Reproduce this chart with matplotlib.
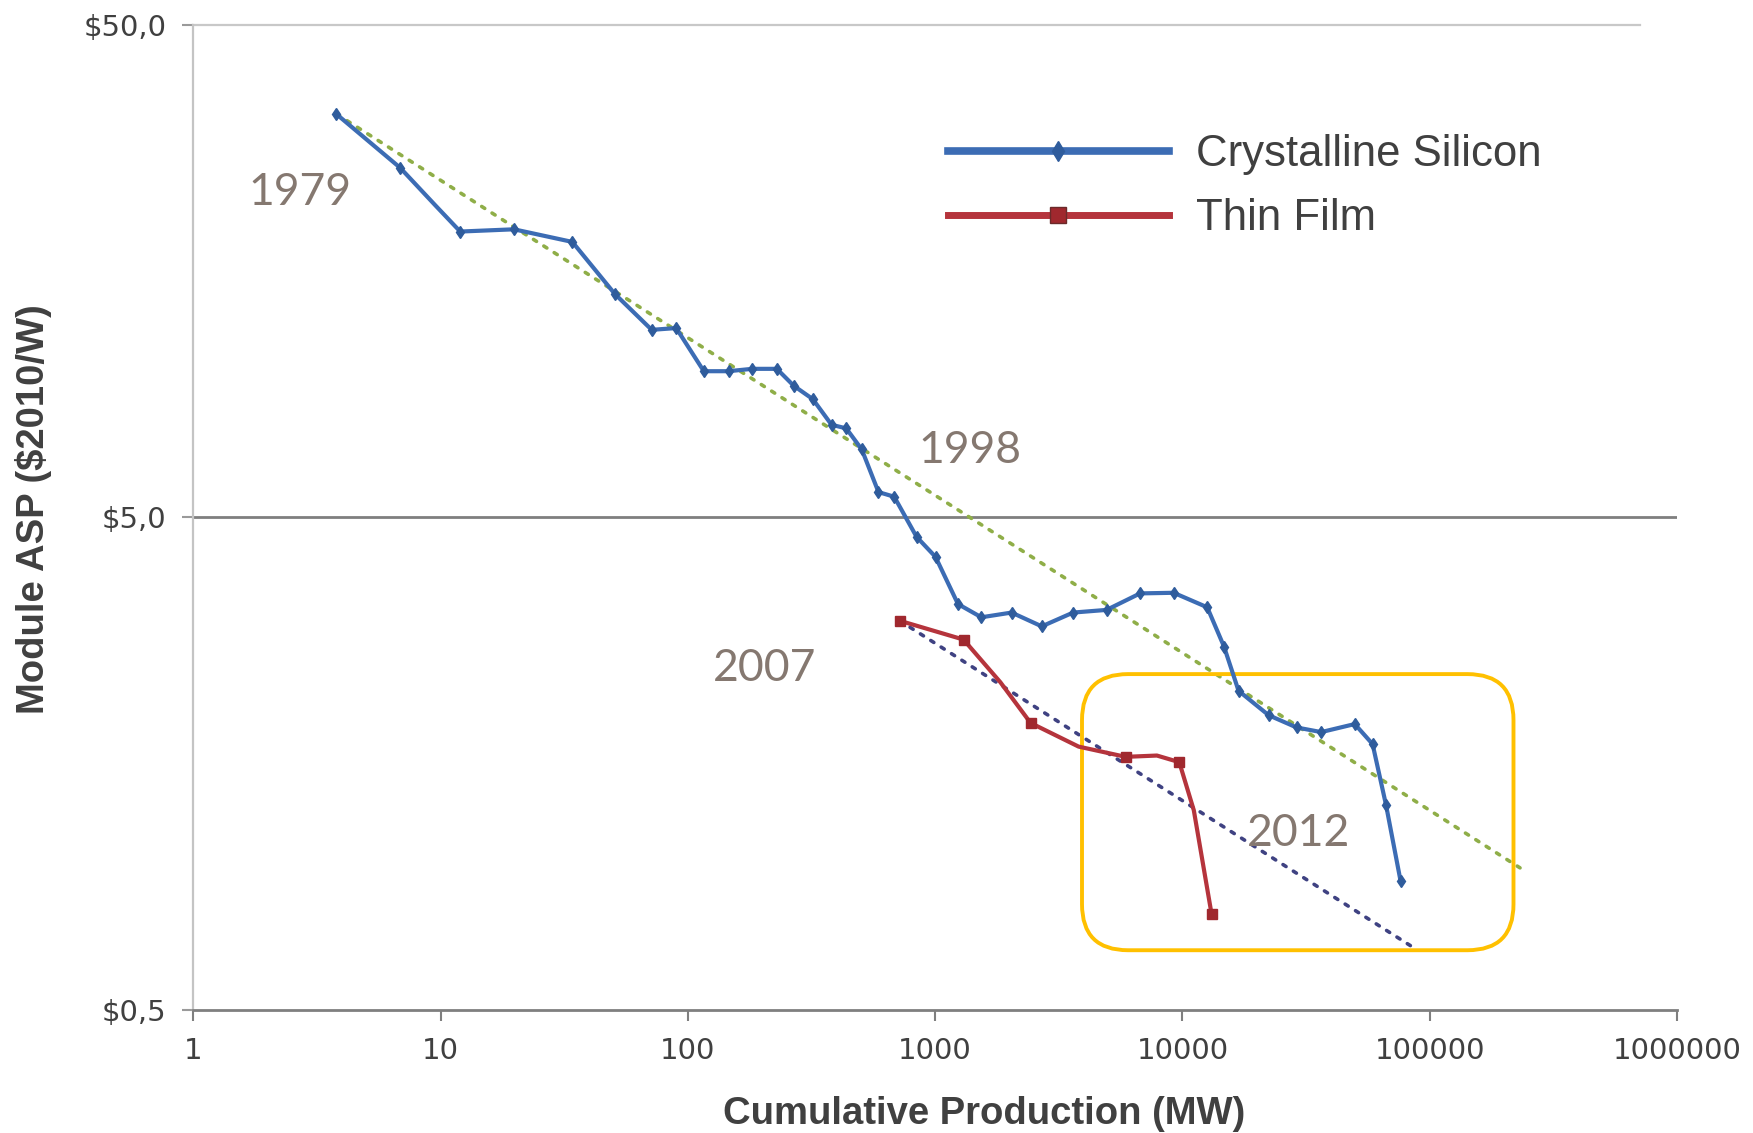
import matplotlib
matplotlib.use("Agg")
import matplotlib.pyplot as plt
from matplotlib.patches import FancyBboxPatch
from matplotlib.lines import Line2D
from matplotlib.transforms import IdentityTransform
from matplotlib.ticker import NullLocator

# ---- data ----
si_x = [3.79, 6.86, 9.5, 12.0, 19.8, 34.1, 50.6, 71.4, 89.7, 116, 146, 182, 229, 268, 320,
        381, 437, 505, 590, 683, 841, 1004, 1237, 1538, 2038, 2700, 3614, 4937, 6746,
        9220, 12600, 14730, 16870, 22330, 28970, 36430, 49780, 58780, 66640, 76280]
si_y = [32.9, 25.6, 21.5, 19.0, 19.2, 18.1, 14.2, 12.0, 12.1, 9.89, 9.89, 10.0, 10.0, 9.24, 8.68,
        7.70, 7.57, 6.86, 5.62, 5.50, 4.56, 4.15, 3.33, 3.13, 3.20, 3.00, 3.20, 3.24, 3.50,
        3.51, 3.28, 2.73, 2.22, 1.98, 1.87, 1.83, 1.90, 1.73, 1.30, 0.912]

tf_x = [719, 1303, 1836, 2432, 3803, 5893, 7887, 9714, 11120, 13130]
tf_y = [3.08, 2.82, 2.31, 1.91, 1.71, 1.63, 1.64, 1.59, 1.27, 0.78]

si_trend_x = [3.8, 232000]
si_trend_y = [32.9, 0.97]
tf_trend_x = [719, 86500]
tf_trend_y = [3.08, 0.667]

x_ticks = [1, 10, 100, 1000, 10000, 100000, 1000000]
x_tick_labels = ["1", "10", "100", "1000", "10000", "100000", "1000000"]
y_ticks = [0.5, 5, 50]
y_tick_labels = ["\\$0,5", "\\$5,0", "\\$50,0"]

year_labels = ["1979", "1998", "2007", "2012"]
year_x = [2.69, 1387, 204, 29580]
year_y = [22.8, 6.82, 2.46, 1.14]

box_x = [3926, 218300]
box_y = [0.66, 2.40]

series_names = ["Crystalline Silicon", "Thin Film"]

# ---- styles ----
BLUE = "#3c6cb4"
BLUE_M = "#2f5c9c"
RED = "#b5343c"
RED_M = "#a0282e"
GREEN = "#8fae48"
NAVY = "#3f4282"
TXT = "#404040"

fig = plt.figure(figsize=(17.53, 11.33), dpi=100)
ax = fig.add_axes([0.1103, 0.1089, 0.8463, 0.8694])
ax.set_xscale("log")
ax.set_yscale("log")
ax.set_xlim(1, 1e6)
ax.set_ylim(0.5, 50)

# frame
for s in ["top", "right"]:
    ax.spines[s].set_visible(False)
ax.spines["left"].set_color("#c4c4c4")
ax.spines["left"].set_linewidth(1.6)
ax.spines["bottom"].set_color("#7f7f7f")
ax.spines["bottom"].set_linewidth(2.0)

ax.axhline(5, color="#7f7f7f", lw=2.0, zorder=1)
ax.axhline(50, xmax=0.975, color="#c8c8c8", lw=1.6, zorder=1, clip_on=False)

ax.set_xticks(x_ticks)
ax.set_xticklabels(x_tick_labels)
ax.set_yticks(y_ticks)
ax.set_yticklabels(y_tick_labels)
ax.xaxis.set_minor_locator(NullLocator())
ax.yaxis.set_minor_locator(NullLocator())
ax.tick_params(axis="x", length=8, width=1.5, color="#7f7f7f", pad=12,
               labelsize=21, labelcolor=TXT)
ax.tick_params(axis="y", length=8, width=1.5, color="#9a9a9a", pad=11.5,
               labelsize=21, labelcolor=TXT)

# trend lines
ax.plot(si_trend_x, si_trend_y, color=GREEN, lw=2.6, ls=(0, (1, 2.4)),
        dash_capstyle="round", zorder=3)
ax.plot(tf_trend_x, tf_trend_y, color=NAVY, lw=2.6, ls=(0, (1, 2.4)),
        dash_capstyle="round", zorder=3)

# series
ax.plot(si_x, si_y, color=BLUE, lw=3.0, marker="d", ms=6, mfc=BLUE_M, mec=BLUE_M,
        zorder=5, solid_joinstyle="round", markevery=[i for i in range(len(si_x)) if i != 2])
ax.plot(tf_x, tf_y, color=RED, lw=3.0, marker="s", ms=7, markevery=[0, 1, 3, 5, 7, 9],
        mfc=RED_M, mec=RED_M, zorder=5, solid_joinstyle="round")

# year annotations
for s, xv, yv in zip(year_labels, year_x, year_y):
    ax.text(xv, yv, s, ha="center", va="center", fontsize=32, family="Lato",
            color="#857870", zorder=6)

# highlight box (pixel-rounded corners)
(x0, y0) = ax.transData.transform((box_x[0], box_y[0]))
(x1, y1) = ax.transData.transform((box_x[1], box_y[1]))
box = FancyBboxPatch((x0, y0), x1 - x0, y1 - y0,
                     boxstyle="round,pad=0,rounding_size=46",
                     transform=IdentityTransform(), fill=False,
                     ec="#FFC000", lw=2.8, zorder=4)
ax.add_artist(box)

# axis labels
ax.set_xlabel("Cumulative Production (MW)", fontsize=27.5, fontweight="bold",
              family="Liberation Sans", color=TXT)
ax.xaxis.label.set(va="center", ha="center")
ax.xaxis.set_label_coords(0.533, -0.1055)
ax.set_ylabel("Module ASP (\\$2010/W)", fontsize=27.5, fontweight="bold",
              family="Liberation Sans", color=TXT)
ax.yaxis.label.set(va="center", ha="center", rotation_mode="anchor")
ax.yaxis.set_label_coords(-0.108, 0.5085)

# legend
handles = [
    Line2D([], [], color=BLUE, lw=5.5, marker="d", ms=10, mfc=BLUE_M, mec=BLUE_M),
    Line2D([], [], color=RED, lw=5, marker="s", ms=12, mfc=RED_M, mec="#6a2a2a"),
]
leg = ax.legend(handles, series_names, loc="upper left",
                bbox_to_anchor=(948 / 1753, 0.8813), bbox_transform=fig.transFigure,
                frameon=False, borderpad=0, borderaxespad=0, handlelength=5.05,
                handletextpad=0.62, labelspacing=0.52,
                prop={"family": "Liberation Sans", "size": 31.5})
for t in leg.get_texts():
    t.set_color(TXT)

fig.savefig("out.png", dpi=100, facecolor="white")
